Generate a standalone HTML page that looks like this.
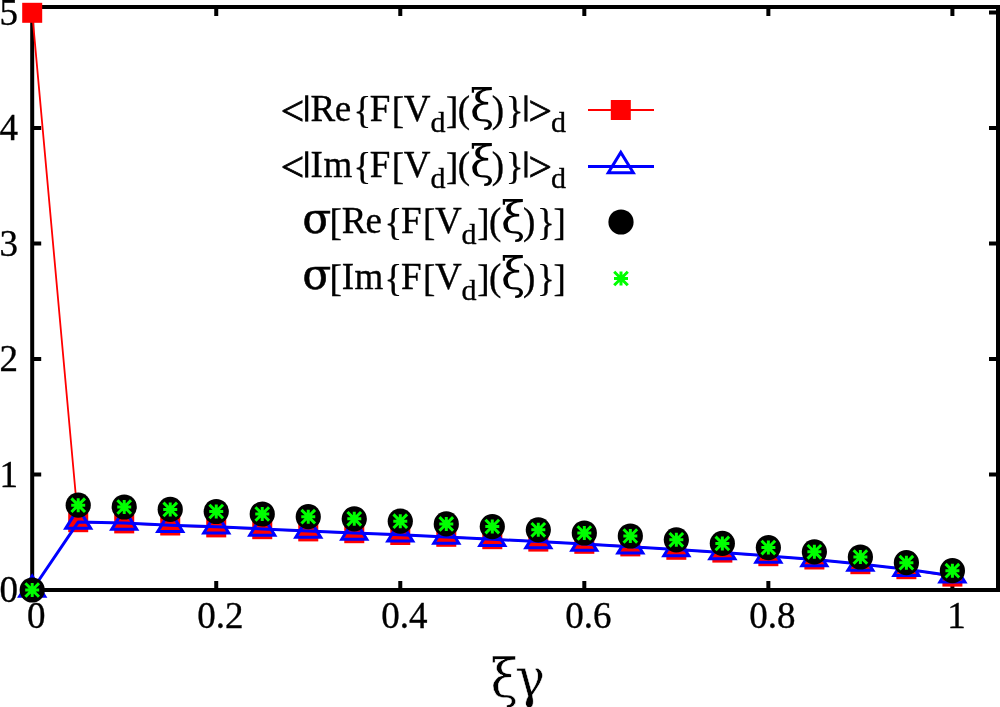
<!DOCTYPE html>
<html><head><meta charset="utf-8"><style>
html,body{margin:0;padding:0;background:#fff;}
svg{display:block;}
text{font-family:"Liberation Serif",serif;font-size:37px;fill:#000;stroke:#000;stroke-width:0.35px;}
.sb{font-size:30px;}
.lt{font-size:41.5px;stroke-width:0.7px;}
.xi{font-family:"DejaVu Serif",serif;font-size:44px;stroke-width:0;}
.sg{font-family:"DejaVu Serif",serif;font-size:42px;stroke-width:0.6px;}
.xl{font-family:"DejaVu Serif",serif;font-size:54px;stroke:#fff;stroke-width:0.5px;}
.bar{stroke-width:1.3px;}
</style></head><body>
<svg width="1000" height="707" viewBox="0 0 1000 707">
<rect width="1000" height="707" fill="#fff"/>
<g fill="none" stroke="#000" stroke-width="4" stroke-linecap="butt">
<rect x="32.2" y="7" width="965.8" height="583"/>
<path d="M32.2 590h9M998 590h-9M32.2 474.5h9M998 474.5h-9M32.2 359h9M998 359h-9M32.2 243.5h9M998 243.5h-9M32.2 128h9M998 128h-9M32.2 12.5h9M998 12.5h-9M32.2 590v-9M32.2 7v9M216.24 590v-9M216.24 7v9M400.28 590v-9M400.28 7v9M584.32 590v-9M584.32 7v9M768.36 590v-9M768.36 7v9M952.4 590v-9M952.4 7v9"/>
</g>
<text x="18" y="602.2" text-anchor="end">0</text><text x="18" y="486.7" text-anchor="end">1</text><text x="18" y="371.2" text-anchor="end">2</text><text x="18" y="255.7" text-anchor="end">3</text><text x="18" y="140.2" text-anchor="end">4</text><text x="18" y="24.7" text-anchor="end">5</text>
<text x="36.3" y="627.8" text-anchor="middle">0</text><text x="220.34" y="627.8" text-anchor="middle">0.2</text><text x="404.38" y="627.8" text-anchor="middle">0.4</text><text x="588.42" y="627.8" text-anchor="middle">0.6</text><text x="772.46" y="627.8" text-anchor="middle">0.8</text><text x="956.5" y="627.8" text-anchor="middle">1</text>
<text class="xl" transform="translate(490.0 696.5) scale(0.93 1)" x="0.53 26.98" y="0">ξγ</text>
<text><tspan class="lt" x="280.8" y="124.6">&lt;</tspan><tspan class="bar" x="303.1" y="123">|</tspan><tspan x="310.6" y="121">R</tspan><tspan x="334.8" y="121">e</tspan><tspan x="353.4" y="123">{</tspan><tspan x="369.8" y="121">F</tspan><tspan x="391.8" y="122.5">[</tspan><tspan x="403.8" y="121">V</tspan><tspan class="sb" x="430.4" y="132">d</tspan><tspan x="446" y="122.5">]</tspan><tspan x="457.8" y="122">(</tspan><tspan class="xi" x="469.9" y="121">ξ</tspan><tspan x="491.8" y="122">)</tspan><tspan x="505.8" y="123">}</tspan><tspan class="bar" x="522.3" y="123">|</tspan><tspan class="lt" x="528.4" y="124.6">&gt;</tspan><tspan class="sb" x="551" y="132">d</tspan></text><text><tspan class="lt" x="280.8" y="180.6">&lt;</tspan><tspan class="bar" x="303.1" y="179">|</tspan><tspan x="310.6" y="177">I</tspan><tspan x="323.4" y="177">m</tspan><tspan x="353.4" y="179">{</tspan><tspan x="369.8" y="177">F</tspan><tspan x="391.8" y="178.5">[</tspan><tspan x="403.8" y="177">V</tspan><tspan class="sb" x="430.4" y="188">d</tspan><tspan x="446" y="178.5">]</tspan><tspan x="457.8" y="178">(</tspan><tspan class="xi" x="469.9" y="177">ξ</tspan><tspan x="491.8" y="178">)</tspan><tspan x="505.8" y="179">}</tspan><tspan class="bar" x="522.3" y="179">|</tspan><tspan class="lt" x="528.4" y="180.6">&gt;</tspan><tspan class="sb" x="551" y="188">d</tspan></text><text><tspan class="sg" x="302.4" y="233">σ</tspan><tspan x="329.4" y="234.5">[</tspan><tspan x="341.8" y="233">R</tspan><tspan x="365.6" y="233">e</tspan><tspan x="384.6" y="235">{</tspan><tspan x="401" y="233">F</tspan><tspan x="423" y="234.5">[</tspan><tspan x="435" y="233">V</tspan><tspan class="sb" x="461.6" y="244">d</tspan><tspan x="477.2" y="234.5">]</tspan><tspan x="489" y="234">(</tspan><tspan class="xi" x="501.1" y="233">ξ</tspan><tspan x="523" y="234">)</tspan><tspan x="537" y="235">}</tspan><tspan x="553.4" y="234.5">]</tspan></text><text><tspan class="sg" x="302.4" y="289">σ</tspan><tspan x="329.4" y="290.5">[</tspan><tspan x="341.8" y="289">I</tspan><tspan x="354.6" y="289">m</tspan><tspan x="384.6" y="291">{</tspan><tspan x="401" y="289">F</tspan><tspan x="423" y="290.5">[</tspan><tspan x="435" y="289">V</tspan><tspan class="sb" x="461.6" y="300">d</tspan><tspan x="477.2" y="290.5">]</tspan><tspan x="489" y="290">(</tspan><tspan class="xi" x="501.1" y="289">ξ</tspan><tspan x="523" y="290">)</tspan><tspan x="537" y="291">}</tspan><tspan x="553.4" y="290.5">]</tspan></text>
<rect x="304.3" y="121.6" width="6" height="14" fill="#fff"/><rect x="523.5" y="121.6" width="6" height="14" fill="#fff"/><rect x="304.3" y="177.6" width="6" height="14" fill="#fff"/><rect x="523.5" y="177.6" width="6" height="14" fill="#fff"/>
<path d="M588 110H654" stroke="#f00" stroke-width="1.8" fill="none"/>
<polyline points="32.2,12.8 78.21,522.2 124.22,523.4 170.23,525.5 216.24,527.4 262.25,529.2 308.26,531.4 354.27,533.2 400.28,535 446.29,536.8 492.3,539.2 538.31,541.6 584.32,543.8 630.33,546.4 676.34,549.8 722.35,552.6 768.36,556.2 814.37,559.5 860.38,564.2 906.39,569.2 952.4,576.6" fill="none" stroke="#f00" stroke-width="1.8" stroke-linejoin="round"/>
<g fill="#f00"><rect x="610.8" y="100" width="20" height="20"/><rect x="22.2" y="2.8" width="20" height="20"/><rect x="68.21" y="512.2" width="20" height="20"/><rect x="114.22" y="513.4" width="20" height="20"/><rect x="160.23" y="515.5" width="20" height="20"/><rect x="206.24" y="517.4" width="20" height="20"/><rect x="252.25" y="519.2" width="20" height="20"/><rect x="298.26" y="521.4" width="20" height="20"/><rect x="344.27" y="523.2" width="20" height="20"/><rect x="390.28" y="525" width="20" height="20"/><rect x="436.29" y="526.8" width="20" height="20"/><rect x="482.3" y="529.2" width="20" height="20"/><rect x="528.31" y="531.6" width="20" height="20"/><rect x="574.32" y="533.8" width="20" height="20"/><rect x="620.33" y="536.4" width="20" height="20"/><rect x="666.34" y="539.8" width="20" height="20"/><rect x="712.35" y="542.6" width="20" height="20"/><rect x="758.36" y="546.2" width="20" height="20"/><rect x="804.37" y="549.5" width="20" height="20"/><rect x="850.38" y="554.2" width="20" height="20"/><rect x="896.39" y="559.2" width="20" height="20"/><rect x="942.4" y="566.6" width="20" height="20"/></g>
<path d="M588 166.4H654" stroke="#00f" stroke-width="3" fill="none"/>
<polyline points="32.2,590 78.21,522.1 124.22,523.1 170.23,525.2 216.24,526.7 262.25,528.9 308.26,531.1 354.27,532.9 400.28,534.7 446.29,537 492.3,539.3 538.31,541.6 584.32,544.1 630.33,546.7 676.34,549.5 722.35,552.5 768.36,555.9 814.37,559.5 860.38,564.1 906.39,569.2 952.4,575.8" fill="none" stroke="#00f" stroke-width="3" stroke-linejoin="round"/>
<g fill="none" stroke="#00f" stroke-width="3"><polygon points="620.8,152.4 608.3,172.65 633.3,172.65"/><polygon points="32.2,576 19.7,596.25 44.7,596.25"/><polygon points="78.21,508.1 65.71,528.35 90.71,528.35"/><polygon points="124.22,509.1 111.72,529.35 136.72,529.35"/><polygon points="170.23,511.2 157.73,531.45 182.73,531.45"/><polygon points="216.24,512.7 203.74,532.95 228.74,532.95"/><polygon points="262.25,514.9 249.75,535.15 274.75,535.15"/><polygon points="308.26,517.1 295.76,537.35 320.76,537.35"/><polygon points="354.27,518.9 341.77,539.15 366.77,539.15"/><polygon points="400.28,520.7 387.78,540.95 412.78,540.95"/><polygon points="446.29,523 433.79,543.25 458.79,543.25"/><polygon points="492.3,525.3 479.8,545.55 504.8,545.55"/><polygon points="538.31,527.6 525.81,547.85 550.81,547.85"/><polygon points="584.32,530.1 571.82,550.35 596.82,550.35"/><polygon points="630.33,532.7 617.83,552.95 642.83,552.95"/><polygon points="676.34,535.5 663.84,555.75 688.84,555.75"/><polygon points="722.35,538.5 709.85,558.75 734.85,558.75"/><polygon points="768.36,541.9 755.86,562.15 780.86,562.15"/><polygon points="814.37,545.5 801.87,565.75 826.87,565.75"/><polygon points="860.38,550.1 847.88,570.35 872.88,570.35"/><polygon points="906.39,555.2 893.89,575.45 918.89,575.45"/><polygon points="952.4,561.8 939.9,582.05 964.9,582.05"/></g>
<g fill="#000"><circle cx="621" cy="222" r="12.6"/><circle cx="32.2" cy="590" r="12.6"/><circle cx="78.21" cy="505.2" r="12.6"/><circle cx="124.22" cy="507" r="12.6"/><circle cx="170.23" cy="509.4" r="12.6"/><circle cx="216.24" cy="511.5" r="12.6"/><circle cx="262.25" cy="514" r="12.6"/><circle cx="308.26" cy="516.7" r="12.6"/><circle cx="354.27" cy="518.8" r="12.6"/><circle cx="400.28" cy="521.2" r="12.6"/><circle cx="446.29" cy="523.9" r="12.6"/><circle cx="492.3" cy="526.6" r="12.6"/><circle cx="538.31" cy="529.8" r="12.6"/><circle cx="584.32" cy="533" r="12.6"/><circle cx="630.33" cy="536" r="12.6"/><circle cx="676.34" cy="539.8" r="12.6"/><circle cx="722.35" cy="543.4" r="12.6"/><circle cx="768.36" cy="547.6" r="12.6"/><circle cx="814.37" cy="551.8" r="12.6"/><circle cx="860.38" cy="557" r="12.6"/><circle cx="906.39" cy="562.7" r="12.6"/><circle cx="952.4" cy="570.7" r="12.6"/></g>
<g fill="none" stroke="#0f0" stroke-width="3"><path d="M621 271.5V285.5M614 278.5H628M614.2 271.7L627.8 285.3M614.2 285.3L627.8 271.7"/><path d="M32.2 583V597M25.2 590H39.2M25.4 583.2L39 596.8M25.4 596.8L39 583.2"/><path d="M78.21 498.2V512.2M71.21 505.2H85.21M71.41 498.4L85.01 512M71.41 512L85.01 498.4"/><path d="M124.22 500V514M117.22 507H131.22M117.42 500.2L131.02 513.8M117.42 513.8L131.02 500.2"/><path d="M170.23 502.4V516.4M163.23 509.4H177.23M163.43 502.6L177.03 516.2M163.43 516.2L177.03 502.6"/><path d="M216.24 504.5V518.5M209.24 511.5H223.24M209.44 504.7L223.04 518.3M209.44 518.3L223.04 504.7"/><path d="M262.25 507V521M255.25 514H269.25M255.45 507.2L269.05 520.8M255.45 520.8L269.05 507.2"/><path d="M308.26 509.7V523.7M301.26 516.7H315.26M301.46 509.9L315.06 523.5M301.46 523.5L315.06 509.9"/><path d="M354.27 511.8V525.8M347.27 518.8H361.27M347.47 512L361.07 525.6M347.47 525.6L361.07 512"/><path d="M400.28 514.2V528.2M393.28 521.2H407.28M393.48 514.4L407.08 528M393.48 528L407.08 514.4"/><path d="M446.29 516.9V530.9M439.29 523.9H453.29M439.49 517.1L453.09 530.7M439.49 530.7L453.09 517.1"/><path d="M492.3 519.6V533.6M485.3 526.6H499.3M485.5 519.8L499.1 533.4M485.5 533.4L499.1 519.8"/><path d="M538.31 522.8V536.8M531.31 529.8H545.31M531.51 523L545.11 536.6M531.51 536.6L545.11 523"/><path d="M584.32 526V540M577.32 533H591.32M577.52 526.2L591.12 539.8M577.52 539.8L591.12 526.2"/><path d="M630.33 529V543M623.33 536H637.33M623.53 529.2L637.13 542.8M623.53 542.8L637.13 529.2"/><path d="M676.34 532.8V546.8M669.34 539.8H683.34M669.54 533L683.14 546.6M669.54 546.6L683.14 533"/><path d="M722.35 536.4V550.4M715.35 543.4H729.35M715.55 536.6L729.15 550.2M715.55 550.2L729.15 536.6"/><path d="M768.36 540.6V554.6M761.36 547.6H775.36M761.56 540.8L775.16 554.4M761.56 554.4L775.16 540.8"/><path d="M814.37 544.8V558.8M807.37 551.8H821.37M807.57 545L821.17 558.6M807.57 558.6L821.17 545"/><path d="M860.38 550V564M853.38 557H867.38M853.58 550.2L867.18 563.8M853.58 563.8L867.18 550.2"/><path d="M906.39 555.7V569.7M899.39 562.7H913.39M899.59 555.9L913.19 569.5M899.59 569.5L913.19 555.9"/><path d="M952.4 563.7V577.7M945.4 570.7H959.4M945.6 563.9L959.2 577.5M945.6 577.5L959.2 563.9"/></g>
</svg>
</body></html>
